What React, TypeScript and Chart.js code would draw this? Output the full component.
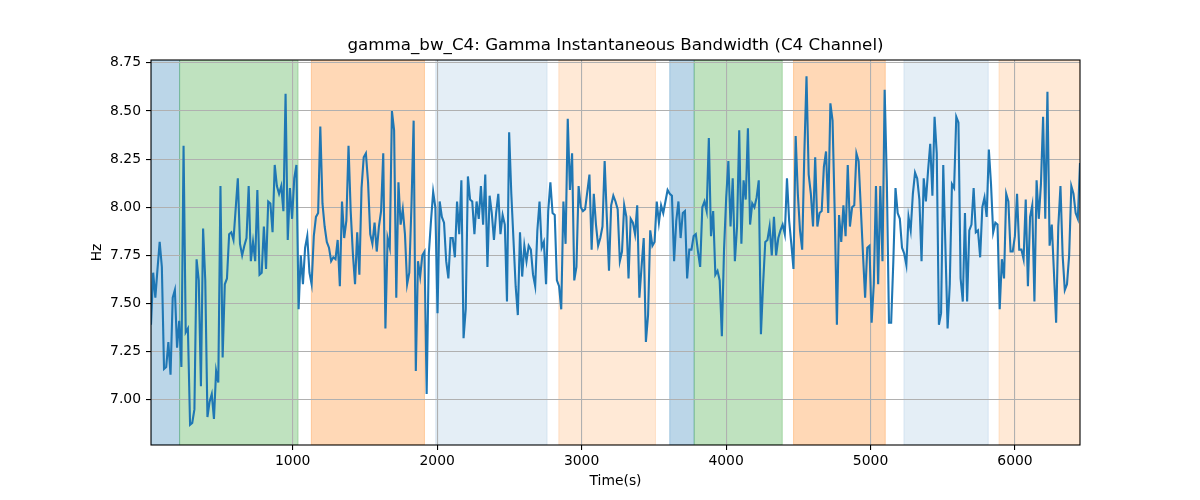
// @ts-nocheck
import {useEffect, useRef} from "react";
import {Chart, registerables} from 'chart.js';

Chart.register(...registerables);

// time range of the recording (s)
const T_START = 19;
const T_END = 6450;

// gamma instantaneous bandwidth, C4 channel (Hz), evenly sampled between T_START and T_END
const gammaBw = [
    7.39, 7.66, 7.53, 7.68, 7.82, 7.69, 7.16, 7.17, 7.30, 7.13, 7.53,
    7.57, 7.27, 7.41, 7.17, 8.32, 7.35, 7.37, 6.87, 6.88, 6.95,
    7.73, 7.62, 7.07, 7.89, 7.62, 6.91, 6.99, 7.03, 6.90, 7.15,
    7.09, 8.11, 7.22, 7.60, 7.63, 7.86, 7.87, 7.83, 7.99, 8.15, 7.81,
    7.75, 7.80,
    7.84, 8.11, 7.72, 7.82, 7.72, 8.09, 7.65, 7.66, 7.90, 7.68,
    8.03, 8.02, 7.87, 8.22, 8.11, 8.07, 8.11, 7.98, 8.59, 7.83,
    8.10, 7.94, 8.15, 8.22, 7.47, 7.75, 7.60, 7.79, 7.85, 7.66,
    7.60, 7.85, 7.95, 7.97, 8.42, 8.02, 7.90, 7.82, 7.79, 7.72,
    7.74, 7.73, 7.83,
    7.59, 8.03, 7.84, 7.93, 8.32, 7.98, 7.76, 7.60, 7.87, 7.65,
    8.10, 8.26, 8.28, 8.13, 7.86, 7.81, 7.92, 7.77, 7.90, 7.98,
    8.28, 7.37, 7.84, 7.79, 8.50, 8.40, 7.53, 8.13, 7.91, 7.99,
    7.86, 7.60, 7.66, 8.01, 8.45, 7.15, 7.72, 7.64, 7.75, 7.77,
    7.03, 7.76, 7.93, 8.08,
    8.00, 7.45, 8.03, 7.95, 7.92, 7.72, 7.63, 7.84, 7.84, 7.74,
    8.03, 7.86, 8.14, 7.32, 7.47, 8.16, 8.04, 8.03, 7.86, 8.03,
    7.94, 8.11, 7.91, 8.17, 7.69, 8.06, 7.97, 7.83, 7.97, 8.07,
    7.86, 7.96, 7.91, 7.51, 8.39, 8.07, 7.83, 7.59, 7.44, 7.87,
    7.64, 7.80, 7.72, 7.80,
    7.78, 7.65, 7.59, 7.88, 8.03, 7.79, 7.82, 7.60, 7.98, 8.13,
    7.97, 7.96, 7.62, 7.59, 7.47, 8.03, 7.81, 8.46, 8.09, 8.28,
    7.62, 7.69, 8.11, 8.00, 7.98, 7.99, 8.08, 8.17, 7.78, 8.07,
    7.91, 7.80, 7.84, 7.90, 8.24, 7.95, 7.67, 8.01, 8.06, 8.03,
    7.99, 7.72, 7.77, 8.01,
    7.95, 7.63, 7.94, 7.92, 7.86, 8.01, 7.53, 7.69, 7.84, 7.30,
    7.44, 7.88, 7.80, 7.82, 8.03, 7.92, 8.01, 7.97, 8.03, 8.09,
    8.07, 8.06, 7.72, 7.93, 8.03, 7.84, 7.97, 7.98, 7.63, 7.78,
    7.78, 7.85, 7.86, 7.77, 7.69, 8.00, 8.03, 7.98, 8.36, 7.85,
    7.98, 7.65, 7.67, 7.62,
    7.33, 7.78, 8.05, 8.24, 7.90, 8.15, 7.72, 7.90, 8.40, 7.81,
    8.14, 8.04, 8.41, 7.91, 8.02, 8.00, 8.05, 8.14, 7.34, 7.60,
    7.82, 7.83, 7.90, 7.75, 7.95, 7.75, 7.84, 7.88, 7.91, 7.86,
    8.15, 7.93, 7.81, 7.68, 8.37, 8.07, 7.88, 7.78, 8.28, 8.68,
    8.17, 8.07, 7.90, 8.26,
    7.90, 7.97, 7.98, 8.21, 8.29, 7.97, 8.54, 8.45, 7.97, 7.39,
    7.96, 7.82, 8.01, 7.85, 8.22, 7.90, 8.00, 8.01, 8.28, 8.24,
    8.00, 7.76, 7.53, 7.79, 7.80, 7.40, 7.60, 8.11, 7.60, 8.11,
    7.72, 8.61, 8.14, 7.40, 7.40, 7.72, 8.10, 7.97, 7.94, 7.79,
    7.76, 7.70, 7.95,
    7.88, 8.07, 8.18, 8.15, 8.04, 7.72, 8.15, 8.03, 8.19, 8.33,
    8.06, 8.47, 8.28, 7.39, 7.45, 8.22, 7.79, 7.37, 7.60, 8.12,
    8.10, 8.47, 8.44, 7.63, 7.51, 7.97, 7.51, 7.88, 7.91, 8.10,
    7.87, 7.88, 7.74, 8.00, 8.05, 7.95, 8.30, 8.12, 7.87, 7.92,
    7.91, 7.47, 7.73, 7.63,
    8.07, 8.03, 7.77, 7.77, 7.85, 8.07, 7.78, 7.78, 7.73, 8.04,
    7.59, 7.95, 8.01, 7.51, 8.14, 7.94, 8.12, 8.47, 7.94, 8.60,
    7.80, 7.91, 7.66, 7.40, 7.90, 8.11, 7.75, 7.57, 7.60, 7.75,
    8.11, 8.07, 7.97, 7.94, 8.23,
];

// shaded segments (s)
const spanStarts = [19, 217, 1129, 1990, 2842, 3610, 3779, 4467, 5231, 5889];
const spanEnds = [217, 1037, 1912, 2761, 3511, 3779, 4389, 5102, 5815, 6450];
const spanColors = [
    'rgba(31,119,180,0.3)',
    'rgba(44,160,44,0.3)',
    'rgba(255,127,14,0.3)',
    'rgba(31,119,180,0.12)',
    'rgba(255,127,14,0.17)',
    'rgba(31,119,180,0.3)',
    'rgba(44,160,44,0.3)',
    'rgba(255,127,14,0.3)',
    'rgba(31,119,180,0.12)',
    'rgba(255,127,14,0.17)',
];

const xTicks = [1000, 2000, 3000, 4000, 5000, 6000];
const yTicks = [7.0, 7.25, 7.5, 7.75, 8.0, 8.25, 8.5, 8.75];

const FONT = '"DejaVu Sans", sans-serif';

const decorPlugin = {
    id: 'decor',
    beforeDraw(chart) {
        const {ctx, chartArea, scales} = chart;
        ctx.save();
        ctx.beginPath();
        ctx.rect(chartArea.left, chartArea.top, chartArea.right - chartArea.left, chartArea.bottom - chartArea.top);
        ctx.clip();
        spanStarts.forEach((s, i) => {
            const x0 = scales.x.getPixelForValue(s);
            const x1 = scales.x.getPixelForValue(spanEnds[i]);
            ctx.fillStyle = spanColors[i];
            ctx.fillRect(x0, chartArea.top, x1 - x0, chartArea.bottom - chartArea.top);
            // axvspan edges
            ctx.strokeStyle = spanColors[i];
            ctx.lineWidth = 1;
            ctx.strokeRect(x0, chartArea.top, x1 - x0, chartArea.bottom - chartArea.top);
        });
        ctx.restore();
    },
    afterDatasetsDraw(chart) {
        const {ctx, chartArea} = chart;
        ctx.save();
        ctx.strokeStyle = '#000';
        ctx.lineWidth = 1.1;
        ctx.strokeRect(chartArea.left, chartArea.top, chartArea.right - chartArea.left, chartArea.bottom - chartArea.top);
        ctx.fillStyle = '#000';
        ctx.textAlign = 'center';
        ctx.textBaseline = 'middle';
        ctx.font = '16.7px ' + FONT;
        ctx.fillText('gamma_bw_C4: Gamma Instantaneous Bandwidth (C4 Channel)', (chartArea.left + chartArea.right) / 2, 46);
        ctx.font = '13.9px ' + FONT;
        ctx.fillText('Time(s)', (chartArea.left + chartArea.right) / 2, 481);
        ctx.translate(97, (chartArea.top + chartArea.bottom) / 2);
        ctx.rotate(-Math.PI / 2);
        ctx.fillText('Hz', 0, 0);
        ctx.restore();
    },
};

export default function App() {
    const chartRef = useRef(null);

    useEffect(() => {
        const ctx = chartRef.current.getContext('2d');
        const step = (T_END - T_START) / (gammaBw.length - 1);
        const points = gammaBw.map((v, i) => ({x: T_START + i * step, y: v}));
        const chart = new Chart(ctx, {
            type: 'line',
            data: {
                datasets: [
                    {
                        label: 'gamma_bw_C4',
                        data: points,
                        borderColor: '#1f77b4',
                        borderWidth: 2.1,
                        pointRadius: 0,
                        fill: false,
                        tension: 0,
                    },
                ],
            },
            options: {
                animation: false,
                responsive: false,
                devicePixelRatio: 1,
                layout: {padding: {top: 60, right: 120, bottom: 0, left: 0}},
                plugins: {
                    legend: {display: false},
                    title: {display: false},
                    tooltip: {enabled: false},
                },
                scales: {
                    x: {
                        type: 'linear',
                        min: T_START,
                        max: T_END,
                        afterBuildTicks: (s) => { s.ticks = xTicks.map((v) => ({value: v})); },
                        afterFit: (s) => { s.height = 55; },
                        grid: {color: '#b0b0b0', lineWidth: 1.1, tickLength: 5, tickColor: '#000', tickWidth: 1.1},
                        border: {display: false},
                        ticks: {
                            color: '#000',
                            padding: 3,
                            maxRotation: 0,
                            font: {family: FONT, size: 13.9},
                            callback: (v) => String(v),
                        },
                    },
                    y: {
                        min: 6.765,
                        max: 8.765,
                        afterBuildTicks: (s) => { s.ticks = yTicks.map((v) => ({value: v})); },
                        afterFit: (s) => { s.width = 151; },
                        grid: {color: '#b0b0b0', lineWidth: 1.1, tickLength: 5, tickColor: '#000', tickWidth: 1.1},
                        border: {display: false},
                        ticks: {
                            color: '#000',
                            padding: 5,
                            font: {family: FONT, size: 13.9},
                            callback: (v) => Number(v).toFixed(2),
                        },
                    },
                },
            },
            plugins: [decorPlugin],
        });

        return () => {
            chart.destroy();
        };
    }, []);

    return (
        <div style={{position: 'absolute', left: 0, top: 0, width: 1200, height: 500, background: '#fff'}}>
            <canvas ref={chartRef} width={1200} height={500}/>
        </div>
    );
}
